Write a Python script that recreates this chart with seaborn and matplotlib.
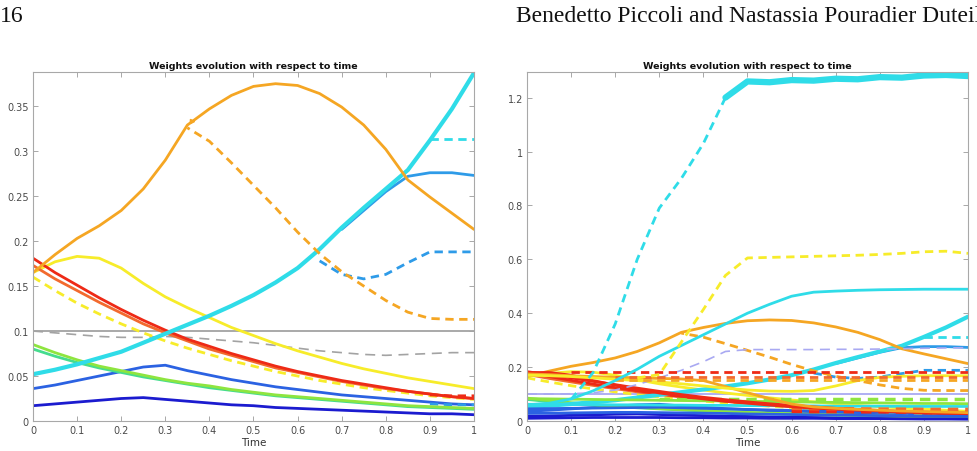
import numpy as np
import matplotlib
matplotlib.use("Agg")
import matplotlib.pyplot as plt
import seaborn as sns

# time grid shared by every trajectory
t = [0.0, 0.05, 0.1, 0.15, 0.2, 0.25, 0.3, 0.35, 0.4, 0.45, 0.5,
     0.55, 0.6, 0.65, 0.7, 0.75, 0.8, 0.85, 0.9, 0.95, 1.0]
nan = np.nan

# ---- trajectories visible in both panels
orange = [0.165, 0.185, 0.203, 0.217, 0.234, 0.258, 0.290, 0.329, 0.347, 0.362, 0.372,
          0.375, 0.373, 0.364, 0.349, 0.329, 0.302, 0.268, 0.249, 0.231, 0.213]
orange_dash = [nan, nan, nan, nan, nan, nan, nan, 0.326, 0.311, 0.287, 0.262,
               0.237, 0.210, 0.186, 0.166, 0.150, 0.134, 0.121, 0.114, 0.113, 0.113]
cyan = [0.052, 0.057, 0.063, 0.070, 0.077, 0.087, 0.097, 0.107, 0.117, 0.128, 0.140,
        0.154, 0.170, 0.191, 0.215, 0.237, 0.258, 0.279, 0.312, 0.347, 0.387]
cyan_dash = [nan] * 18 + [0.313, 0.313, 0.313]
lightblue = [nan] * 14 + [0.213, 0.234, 0.255, 0.272, 0.276, 0.276, 0.273]
lightblue_dash = [nan] * 13 + [0.178, 0.163, 0.158, 0.163, 0.176, 0.188, 0.188, 0.188]
yellow = [0.165, 0.177, 0.183, 0.181, 0.170, 0.153, 0.138, 0.126, 0.115, 0.104, 0.095,
          0.086, 0.078, 0.071, 0.064, 0.058, 0.053, 0.048, 0.044, 0.040, 0.036]
yellow_dash = [0.160, 0.145, 0.131, 0.119, 0.108, 0.098, 0.089, 0.081, 0.074, 0.067, 0.061,
               0.055, 0.050, 0.045, 0.041, 0.037, 0.034, 0.031, 0.028, 0.026, 0.024]
red = [0.181, 0.165, 0.151, 0.137, 0.124, 0.112, 0.101, 0.091, 0.083, 0.075, 0.068,
       0.061, 0.055, 0.050, 0.045, 0.041, 0.037, 0.033, 0.030, 0.027, 0.025]
orangered = [0.173, 0.158, 0.145, 0.132, 0.120, 0.108, 0.098, 0.089, 0.080, 0.073, 0.066,
             0.059, 0.054, 0.049, 0.044, 0.040, 0.036, 0.033, 0.030, 0.027, 0.025]
red_dash_end = [nan] * 18 + [0.029, 0.028, 0.028]
green_a = [0.085, 0.076, 0.068, 0.061, 0.056, 0.051, 0.046, 0.042, 0.039, 0.035, 0.032,
           0.029, 0.027, 0.025, 0.023, 0.021, 0.019, 0.017, 0.016, 0.015, 0.014]
green_b = [0.080, 0.072, 0.065, 0.059, 0.054, 0.049, 0.045, 0.041, 0.037, 0.034, 0.031,
           0.028, 0.026, 0.024, 0.022, 0.020, 0.018, 0.016, 0.015, 0.014, 0.013]
blue = [0.036, 0.040, 0.045, 0.050, 0.055, 0.060, 0.062, 0.056, 0.051, 0.046, 0.042,
        0.038, 0.035, 0.032, 0.029, 0.027, 0.025, 0.023, 0.021, 0.019, 0.018]
blue_dash_end = [nan] * 18 + [0.019, 0.018, 0.018]
darkblue = [0.017, 0.019, 0.021, 0.023, 0.025, 0.026, 0.024, 0.022, 0.020, 0.018, 0.017,
            0.015, 0.014, 0.013, 0.012, 0.011, 0.010, 0.009, 0.008, 0.008, 0.007]
gray_dash = [0.100, 0.098, 0.096, 0.094, 0.093, 0.093, 0.094, 0.093, 0.091, 0.089, 0.087,
             0.084, 0.081, 0.078, 0.076, 0.074, 0.073, 0.074, 0.075, 0.076, 0.076]
threshold = 0.1

# ---- extra trajectories of the second panel
cyan_jump = [nan, nan, 0.080, 0.180, 0.360, 0.600, 0.790, 0.900, 1.030, 1.200, nan,
             nan, nan, nan, nan, nan, nan, nan, nan, nan, nan]
cyan_top = [nan] * 9 + [1.200, 1.260, 1.257, 1.265, 1.263, 1.270, 1.268, 1.276, 1.274, 1.282, 1.284, 1.280]
yellow_jump = [nan] * 5 + [0.160, 0.172, 0.293, 0.414, 0.540, 0.605,
                           0.607, 0.609, 0.611, 0.613, 0.615, 0.618, 0.622, 0.628, 0.630, 0.622]
cyan_b = [0.060, 0.066, 0.082, 0.112, 0.150, 0.192, 0.240, 0.280, 0.320, 0.360, 0.400,
          0.433, 0.463, 0.478, 0.482, 0.485, 0.487, 0.488, 0.489, 0.489, 0.489]
lavender_dash = [0.100, 0.100, 0.101, 0.105, 0.115, 0.135, 0.160, 0.188, 0.220, 0.258, 0.265,
                 0.265, 0.265, 0.265, 0.266, 0.266, 0.267, 0.268, 0.270, 0.271, 0.272]
yellow_b = [0.170, 0.168, 0.165, 0.160, 0.155, 0.150, 0.145, 0.138, 0.130, 0.122, 0.115,
            0.111, 0.110, 0.113, 0.130, 0.150, 0.162, 0.166, 0.168, 0.168, 0.168]
orange_b = [0.175, 0.172, 0.168, 0.165, 0.162, 0.160, 0.158, 0.156, 0.150, 0.128, 0.105,
            0.083, 0.063, 0.052, 0.047, 0.043, 0.040, 0.037, 0.035, 0.033, 0.031]
red_b = [0.180, 0.180, 0.170, 0.150, 0.133, 0.118, 0.104, 0.092, 0.082, 0.073, 0.066,
         0.059, 0.053, 0.048, 0.044, 0.040, 0.037, 0.034, 0.031, 0.029, 0.027]
red_c = [0.183, 0.172, 0.160, 0.147, 0.135, 0.122, 0.110, 0.098, 0.088, 0.079, 0.071,
         0.064, 0.058, 0.052, 0.047, 0.043, 0.039, 0.036, 0.033, 0.030, 0.028]
green_c = [0.083, 0.082, 0.081, 0.080, 0.079, 0.078, 0.077, 0.076, 0.075, 0.074, 0.073,
           0.072, 0.071, 0.070, 0.069, 0.068, 0.067, 0.066, 0.065, 0.065, 0.064]
cyan_c = [0.062, 0.062, 0.061, 0.061, 0.060, 0.060, 0.059, 0.059, 0.058, 0.058, 0.057,
          0.057, 0.056, 0.056, 0.055, 0.055, 0.055, 0.054, 0.054, 0.054, 0.054]
blue_b = [0.045, 0.046, 0.047, 0.048, 0.049, 0.050, 0.051, 0.049, 0.047, 0.045, 0.043,
          0.041, 0.039, 0.037, 0.035, 0.034, 0.033, 0.032, 0.031, 0.030, 0.029]
blue_c = [0.028, 0.029, 0.030, 0.031, 0.032, 0.032, 0.031, 0.030, 0.029, 0.028, 0.026,
          0.025, 0.024, 0.023, 0.022, 0.021, 0.020, 0.019, 0.018, 0.018, 0.017]
darkblue_b = [0.010, 0.011, 0.012, 0.013, 0.013, 0.013, 0.013, 0.012, 0.012, 0.011, 0.011,
              0.010, 0.010, 0.010, 0.009, 0.009, 0.009, 0.008, 0.008, 0.008, 0.008]
green_dash = [nan] * 6 + [0.082] * 15
orangered_dash_low = [nan] * 12 + [0.047, 0.046, 0.045, 0.045, 0.044, 0.044, 0.043, 0.043, 0.043]
red_dash_low = [nan] * 12 + [0.036, 0.035, 0.035, 0.034, 0.034, 0.033, 0.033, 0.033, 0.033]
red_dash_flat = [nan, nan] + [0.183] * 19
orangered_dash_flat = [nan, nan, nan, nan] + [0.164] * 17
orange_dash_flat = [nan, nan, nan, nan] + [0.153] * 17

C_ORANGE = "#F5A623"
C_CYAN = "#2FDCE8"
C_LBLUE = "#2E9BE8"
C_YELLOW = "#F7EC2A"
C_RED = "#EE2A16"
C_ORED = "#F26A2E"
C_GREEN_A = "#8EE53F"
C_GREEN_B = "#45DC8E"
C_BLUE = "#2B62E2"
C_DBLUE = "#1B1BCF"
C_GRAY = "#A3A3A3"
C_LAV = "#A9A9F2"

common = [
    (gray_dash, C_GRAY, (0, (6, 4)), 1.2),
    (darkblue, C_DBLUE, "-", 2.0),
    (blue, C_BLUE, "-", 2.0),
    (blue_dash_end, C_LBLUE, (0, (3, 2)), 2.0),
    (green_b, C_GREEN_B, "-", 2.0),
    (green_a, C_GREEN_A, "-", 2.0),
    (yellow_dash, C_YELLOW, (0, (3, 2)), 2.0),
    (yellow, C_YELLOW, "-", 2.0),
    (orangered, C_ORED, "-", 2.0),
    (red, C_RED, "-", 2.0),
    (red_dash_end, C_RED, (0, (3, 2)), 2.0),
    (lightblue_dash, C_LBLUE, (0, (3, 2)), 2.0),
    (lightblue, C_LBLUE, "-", 2.0),
    (cyan, C_CYAN, "-", 3.0),
    (cyan_dash, C_CYAN, (0, (3, 2)), 2.0),
    (orange_dash, C_ORANGE, (2, (3, 2)), 2.0),
    (orange, C_ORANGE, "-", 2.0),
]

extra = [
    (darkblue_b, C_DBLUE, "-", 2.0),
    (blue_c, C_BLUE, "-", 2.0),
    (blue_b, C_BLUE, "-", 2.0),
    (cyan_c, C_CYAN, "-", 2.0),
    (green_c, C_GREEN_A, "-", 2.0),
    (green_dash, C_GREEN_A, (0, (3, 2)), 2.5),
    (red_dash_low, C_RED, (0, (3, 2)), 2.5),
    (orangered_dash_low, C_ORED, (0, (3, 2)), 2.5),
    (red_c, C_RED, "-", 2.0),
    (red_b, C_RED, "-", 2.0),
    (orange_b, C_ORANGE, "-", 2.0),
    (yellow_b, C_YELLOW, "-", 2.0),
    (lavender_dash, C_LAV, (0, (6, 4)), 1.2),
    (orange_dash_flat, C_ORANGE, (0, (3, 2)), 2.0),
    (orangered_dash_flat, C_ORED, (0, (3, 2)), 2.0),
    (red_dash_flat, C_RED, (0, (3, 2)), 2.0),
    (cyan_b, C_CYAN, "-", 2.0),
    (yellow_jump, C_YELLOW, (0, (3, 2)), 2.0),
    (cyan_jump, C_CYAN, (0, (3, 2)), 2.0),
    (cyan_top, C_CYAN, "-", 4.5),
]

sns.set_theme(style="white")
plt.rcParams["font.family"] = ["DejaVu Sans"]
plt.rcParams.update({
    "xtick.direction": "in", "ytick.direction": "in",
    "xtick.top": True, "ytick.right": True,
    "xtick.bottom": True, "ytick.left": True,
    "xtick.major.size": 3.5, "ytick.major.size": 3.5,
    "xtick.major.width": 0.6, "ytick.major.width": 0.6,
    "xtick.color": "#9A9A9A", "ytick.color": "#9A9A9A",
    "xtick.labelcolor": "#4A4A4A", "ytick.labelcolor": "#4A4A4A",
    "xtick.labelsize": 7, "ytick.labelsize": 7,
    "axes.edgecolor": "#A8A8A8", "axes.linewidth": 0.8,
})

fig = plt.figure(figsize=(9.78, 4.52), dpi=100)
ax1 = fig.add_axes([33 / 978, 30 / 452, 441 / 978, 349 / 452])
ax2 = fig.add_axes([527 / 978, 30 / 452, 441 / 978, 349 / 452])


def draw(ax, lines):
    for w, c, ls, lw in lines:
        sns.lineplot(x=t, y=w, ax=ax, color=c, linestyle=ls, linewidth=lw,
                     estimator=None, errorbar=None, legend=False)


ax1.axhline(threshold, color=C_GRAY, lw=1.3, zorder=1)
draw(ax1, common)
# small marker where the dashed branch leaves the orange curve
ax1.plot(t[7] + 0.01, orange[7] + 0.004, marker=">", ms=3, color=C_ORANGE)

ax2.axhline(threshold, color=C_LAV, lw=1.3, zorder=1)
draw(ax2, common[1:] + extra)

ticks_x = [0, 0.1, 0.2, 0.3, 0.4, 0.5, 0.6, 0.7, 0.8, 0.9, 1]
xlabels = ["0", "0.1", "0.2", "0.3", "0.4", "0.5", "0.6", "0.7", "0.8", "0.9", "1"]
ticks_y1 = [0, 0.05, 0.1, 0.15, 0.2, 0.25, 0.3, 0.35]
ylabels1 = ["0", "0.05", "0.1", "0.15", "0.2", "0.25", "0.3", "0.35"]
ticks_y2 = [0, 0.2, 0.4, 0.6, 0.8, 1.0, 1.2]
ylabels2 = ["0", "0.2", "0.4", "0.6", "0.8", "1", "1.2"]

for ax, ty, tl, top in [(ax1, ticks_y1, ylabels1, 0.388), (ax2, ticks_y2, ylabels2, 1.295)]:
    ax.set_xlim(0, 1)
    ax.set_ylim(0, top)
    ax.set_xticks(ticks_x)
    ax.set_xticklabels(xlabels)
    ax.set_yticks(ty)
    ax.set_yticklabels(tl)
    ax.tick_params(axis="both", pad=3)
    ax.set_xlabel("Time", fontsize=7.5, color="#333333", labelpad=1)
    ax.set_ylabel("")
    ax.set_title("Weights evolution with respect to time", fontsize=6.8,
                 fontweight="bold", color="#111111", pad=3)
    for s in ax.spines.values():
        s.set_visible(True)

# running page header; the author line runs past the right edge as in the source page
fig.text(0.0, 0.952, "16", family="Liberation Serif", fontsize=17, color="#111111")
fig.text(516 / 978, 0.952, "Benedetto Piccoli and Nastassia Pouradier Duteil",
         family="Liberation Serif", fontsize=17, color="#111111")

fig.savefig("out.png", dpi=100)
